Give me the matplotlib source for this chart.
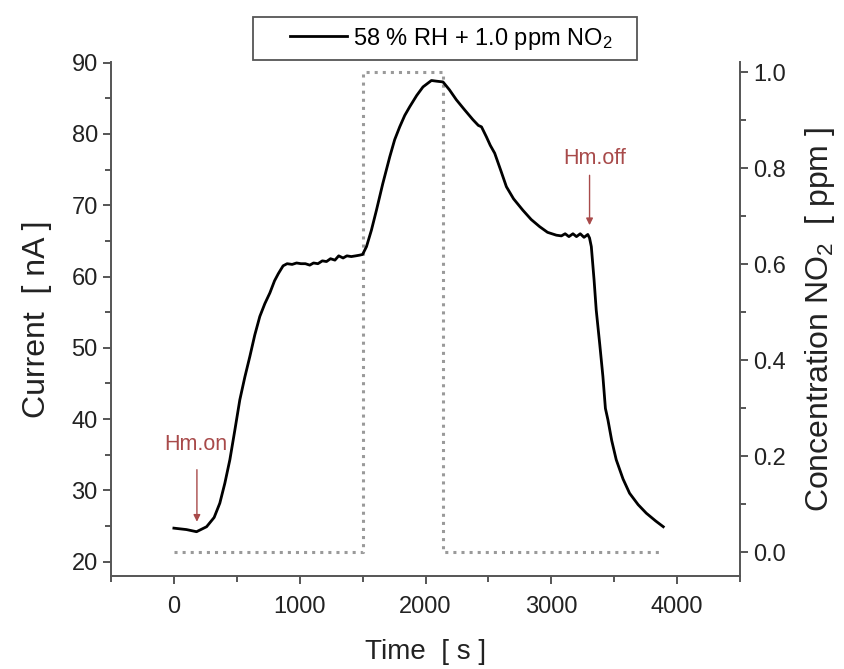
import matplotlib
matplotlib.use("Agg")
import matplotlib.pyplot as plt
from matplotlib.patches import Rectangle
from matplotlib.ticker import MultipleLocator

plt.rcParams['font.family'] = ['Liberation Sans', 'DejaVu Sans']

# current response
time_s = [0, 100, 180, 260, 320, 365, 405, 445, 485, 524, 564, 604, 643, 683, 723,
          763, 800, 830, 868, 900, 940, 975, 1010, 1045, 1080, 1110, 1145, 1180,
          1213, 1245, 1280, 1310, 1345, 1375, 1410, 1445, 1477, 1500, 1531, 1570,
          1610, 1660, 1716, 1755, 1795, 1835, 1874, 1930, 1980, 2047, 2090, 2139,
          2190, 2245, 2310, 2377, 2420, 2445, 2484, 2515, 2550, 2600, 2643, 2700,
          2774, 2840, 2907, 2970, 3040, 3080, 3110, 3140, 3172, 3200, 3230, 3260,
          3290, 3304, 3318, 3340, 3357, 3385, 3410, 3430, 3450, 3480, 3516, 3570,
          3622, 3690, 3755, 3830, 3890]
current_nA = [24.7, 24.5, 24.2, 24.9, 26.2, 28.2, 31.0, 34.3, 38.5, 42.7, 45.9, 48.8,
              51.8, 54.4, 56.2, 57.7, 59.4, 60.4, 61.5, 61.8, 61.7, 61.9, 61.8, 61.8,
              61.6, 61.9, 61.8, 62.2, 62.1, 62.5, 62.3, 62.9, 62.6, 62.9, 62.8, 62.9,
              63.0, 63.1, 64.2, 66.5, 69.3, 73.0, 76.8, 79.2, 81.0, 82.6, 83.8, 85.4,
              86.6, 87.5, 87.4, 87.3, 86.2, 84.8, 83.4, 82.0, 81.2, 81.0, 79.6, 78.4,
              77.3, 74.8, 72.6, 70.9, 69.3, 68.0, 67.0, 66.2, 65.8, 65.7, 66.0, 65.6,
              66.0, 65.6, 66.0, 65.5, 65.9, 65.4, 64.2, 59.5, 55.3, 50.5, 46.0, 41.5,
              39.9, 37.0, 34.3, 31.6, 29.6, 28.0, 26.8, 25.7, 24.9]

# NO2 concentration step
conc_time_s = [0, 1500, 1500, 2140, 2140, 3860]
conc_ppm = [0.0, 0.0, 1.0, 1.0, 0.0, 0.0]

fig = plt.figure(figsize=(8.44, 6.69), dpi=100)
ax = fig.add_axes([0.1315, 0.1383, 0.7453, 0.7695])
ax2 = ax.twinx()

ax2.plot(conc_time_s, conc_ppm, color='#9a9a9a', linestyle=':', linewidth=2.2)
line, = ax.plot(time_s, current_nA, color='black', linewidth=2.0,
                label=r'58 % RH + 1.0 ppm $\mathregular{NO_2}$')
ax.set_zorder(ax2.get_zorder() + 1)
ax.patch.set_visible(False)

ax.set_xlim(-500, 4500)
ax.set_ylim(17.92, 90.14)
ax2.set_ylim(-0.05, 1.022)

ax.xaxis.set_major_locator(MultipleLocator(1000))
ax.xaxis.set_minor_locator(MultipleLocator(500))
ax.yaxis.set_major_locator(MultipleLocator(10))
ax.yaxis.set_minor_locator(MultipleLocator(5))
ax2.yaxis.set_major_locator(MultipleLocator(0.2))
ax2.yaxis.set_minor_locator(MultipleLocator(0.1))
ax2.yaxis.set_major_formatter(plt.FormatStrFormatter('%.1f'))

spine_c = '#555555'
for a in (ax, ax2):
    a.spines['top'].set_visible(False)
    for s in a.spines.values():
        s.set_color(spine_c)
        s.set_linewidth(1.4)
    a.tick_params(which='both', direction='out', color=spine_c, width=1.4,
                  labelsize=17, labelcolor='#222222')
    a.tick_params(which='major', length=6)
    a.tick_params(which='minor', length=4)
ax.tick_params(axis='x', which='major', pad=8)
ax2.spines['left'].set_visible(False)
ax2.spines['bottom'].set_visible(False)
ax.spines['right'].set_visible(False)

ax.set_xlabel('Time  [ s ]', fontsize=20, color='#222222', labelpad=15)
ax.set_ylabel('Current  [ nA ]', fontsize=23, color='#222222', labelpad=14)
ax2.set_ylabel(r'Concentration $\mathregular{NO_2}$  [ ppm ]', fontsize=23,
               color='#222222', labelpad=12)

red = '#a84a4a'
arrow = dict(arrowstyle='-|>', color=red, lw=1.0, mutation_scale=10,
             shrinkA=0, shrinkB=0)
ax.text(175, 36.4, 'Hm.on', ha='center', va='center', fontsize=15.5, color=red)
ax.annotate('', xy=(183, 25.6), xytext=(183, 32.9), arrowprops=arrow)
ax.text(3345, 76.6, 'Hm.off', ha='center', va='center', fontsize=15.5, color=red)
ax.annotate('', xy=(3304, 67.2), xytext=(3304, 74.2), arrowprops=arrow)

# legend box above the plot
fig.patches.append(Rectangle((253.3 / 844, 1 - 60 / 669), 383.4 / 844, 43.3 / 669,
                             transform=fig.transFigure, fill=False,
                             edgecolor='#555555', linewidth=1.3))
fig.legend(handles=[line], loc='center left', bbox_to_anchor=(290 / 844, 1 - 38.5 / 669),
           frameon=False, fontsize=17, handlelength=2.4, handletextpad=0.25,
           borderpad=0, borderaxespad=0)

fig.savefig('out.png', dpi=100)
